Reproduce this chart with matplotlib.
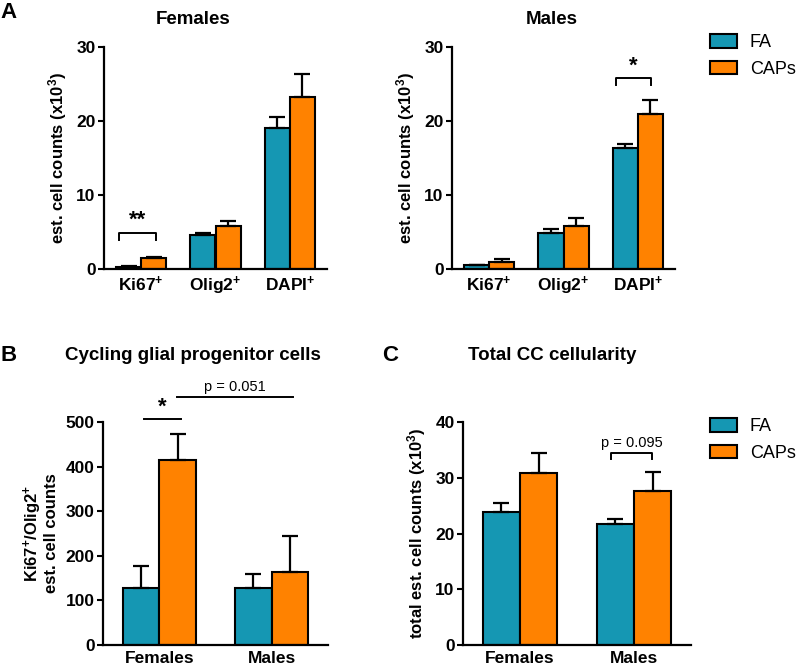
import matplotlib
matplotlib.use('Agg')
import matplotlib.pyplot as plt
import numpy as np

plt.rcParams['font.family'] = ['Liberation Sans', 'DejaVu Sans']
plt.rcParams['font.weight'] = 'bold'
plt.rcParams['mathtext.fontset'] = 'custom'
plt.rcParams['mathtext.rm'] = 'Liberation Sans:bold'
plt.rcParams['mathtext.bf'] = 'Liberation Sans:bold'
plt.rcParams['mathtext.it'] = 'Liberation Sans:bold'

TEAL = '#1597B3'
ORANGE = '#FF8200'

# panel A data (x10^3)
markers = ['Ki67$^{+}$', 'Olig2$^{+}$', 'DAPI$^{+}$']
fem_fa = [0.3, 4.6, 19.0]
fem_fa_err = [0.1, 0.2, 1.6]
fem_caps = [1.45, 5.8, 23.3]
fem_caps_err = [0.2, 0.7, 3.1]
male_fa = [0.5, 4.8, 16.3]
male_fa_err = [0.1, 0.6, 0.6]
male_caps = [0.9, 5.8, 21.0]
male_caps_err = [0.4, 1.1, 1.8]

# panel B data
sexes = ['Females', 'Males']
cyc_fa = [127, 127]
cyc_fa_err = [50, 33]
cyc_caps = [414, 163]
cyc_caps_err = [60, 82]

# panel C data (x10^3)
tot_fa = [23.9, 21.7]
tot_fa_err = [1.6, 0.9]
tot_caps = [30.8, 27.7]
tot_caps_err = [3.6, 3.3]

W, H = 800, 669
fig = plt.figure(figsize=(W / 100, H / 100), dpi=100)


def px_axes(x0, y0, x1, y1):
    return fig.add_axes([x0 / W, 1 - y1 / H, (x1 - x0) / W, (y1 - y0) / H])


def bars(ax, labels, fa, fa_err, caps, caps_err, bw):
    x = np.arange(len(labels))
    ek = dict(ecolor='black', elinewidth=1.6, capsize=6, capthick=1.6)
    b1 = ax.bar(x - bw / 2, fa, bw, color=TEAL, edgecolor='black', linewidth=1.5,
                yerr=[np.zeros(len(fa)), fa_err], error_kw=ek, zorder=2)
    b2 = ax.bar(x + bw / 2, caps, bw, color=ORANGE, edgecolor='black', linewidth=1.5,
                yerr=[np.zeros(len(caps)), caps_err], error_kw=ek, zorder=2)
    ax.set_xlim(-0.5, len(labels) - 0.5)
    ax.set_xticks(x)
    ax.set_xticklabels(labels, fontsize=12.5, fontweight='bold')
    for s in ['top', 'right']:
        ax.spines[s].set_visible(False)
    for s in ['left', 'bottom']:
        ax.spines[s].set_linewidth(1.6)
    ax.tick_params(axis='x', length=0, pad=4)
    ax.tick_params(axis='y', length=4, width=1.5, labelsize=12.5, pad=2)
    for t in ax.get_yticklabels():
        t.set_fontweight('bold')
    return b1, b2


def bracket(ax, x0, x1, y, leg, text, ty, fs=16):
    ax.plot([x0, x0, x1, x1], [y - leg, y, y, y - leg], color='black', lw=1.4,
            clip_on=False)
    ax.text((x0 + x1) / 2, ty, text, ha='center', va='bottom', fontsize=fs,
            fontweight='bold' if '*' in text else 'normal', clip_on=False)


# A females
axF = px_axes(104, 47, 327, 269)
b1, b2 = bars(axF, markers, fem_fa, fem_fa_err, fem_caps, fem_caps_err, 0.34)
axF.set_ylim(0, 30)
axF.set_yticks([0, 10, 20, 30])
axF.set_ylabel('est. cell counts (x10$^{3}$)', fontsize=12, fontweight='bold', labelpad=5)
bracket(axF, -0.3, 0.2, 4.9, 1.0, '**', 5.2)

# A males
axM = px_axes(452, 47, 675, 269)
bars(axM, markers, male_fa, male_fa_err, male_caps, male_caps_err, 0.34)
axM.set_ylim(0, 30)
axM.set_yticks([0, 10, 20, 30])
axM.set_ylabel('est. cell counts (x10$^{3}$)', fontsize=12, fontweight='bold', labelpad=5)
bracket(axM, 2 - 0.3, 2 + 0.18, 25.8, 0.9, '*', 26.0)

# B
axB = px_axes(103, 422, 328, 645)
bars(axB, sexes, cyc_fa, cyc_fa_err, cyc_caps, cyc_caps_err, 0.325)
axB.set_ylim(0, 500)
axB.set_yticks([0, 100, 200, 300, 400, 500])
axB.set_ylabel('Ki67$^{+}$/Olig2$^{+}$\nest. cell counts', fontsize=12,
               fontweight='bold', labelpad=5, linespacing=1.0)
axB.plot([-0.14, 0.19], [507, 507], color='black', lw=1.4, clip_on=False)
axB.text(0.025, 510, '*', ha='center', va='bottom', fontsize=16, fontweight='bold')
axB.plot([0.16, 1.19], [555, 555], color='black', lw=1.4, clip_on=False)
axB.text(0.675, 563, 'p = 0.051', ha='center', va='bottom', fontsize=10.5,
         fontweight='normal')

# C
axC = px_axes(463, 422, 691, 645)
bars(axC, sexes, tot_fa, tot_fa_err, tot_caps, tot_caps_err, 0.325)
axC.set_ylim(0, 40)
axC.set_yticks([0, 10, 20, 30, 40])
axC.set_ylabel('total est. cell counts (x10$^{3}$)', fontsize=12, fontweight='bold', labelpad=5)
bracket(axC, 1 - 0.2, 1 + 0.16, 34.5, 1.2, 'p = 0.095', 35.0, fs=10.5)

# titles and panel letters
fig.text(193 / W, 1 - 20 / H, 'Females', ha='center', va='center', fontsize=13.5, fontweight='bold')
fig.text(552 / W, 1 - 20 / H, 'Males', ha='center', va='center', fontsize=13.5, fontweight='bold')
fig.text(193 / W, 1 - 355 / H, 'Cycling glial progenitor cells', ha='center', va='center',
         fontsize=13.5, fontweight='bold')
fig.text(552 / W, 1 - 355 / H, 'Total CC cellularity', ha='center', va='center',
         fontsize=13.5, fontweight='bold')
fig.text(0 / W, 1 - 12 / H, 'A', ha='left', va='center', fontsize=16, fontweight='bold')
fig.text(0 / W, 1 - 355 / H, 'B', ha='left', va='center', fontsize=16, fontweight='bold')
fig.text(382 / W, 1 - 355 / H, 'C', ha='left', va='center', fontsize=16, fontweight='bold')

# legends
for yy in (27, 411):
    fig.legend([b1, b2], ['FA', 'CAPs'], loc='upper left',
               bbox_to_anchor=(703 / W, 1 - yy / H), frameon=False,
               prop={'family': 'Liberation Sans', 'weight': 'normal', 'size': 13},
               handlelength=1.5, handleheight=0.75, handletextpad=0.7,
               labelspacing=0.55, borderaxespad=0)

fig.savefig('out.png', dpi=100)
